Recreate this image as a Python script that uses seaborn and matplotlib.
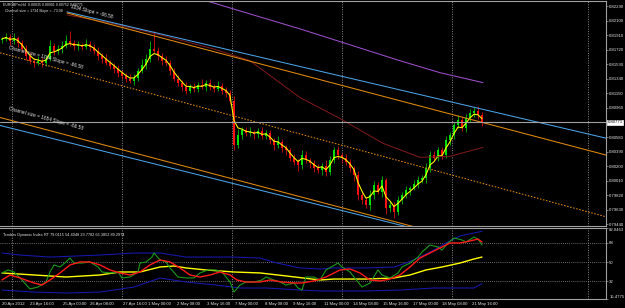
import numpy as np
import pandas as pd
import matplotlib
matplotlib.use("Agg")
import matplotlib.pyplot as plt
import seaborn as sns

# EURGBPm H4 closes (one per bar), first open, wick sizes in pips
first_open = 0.81850
closes = [
    0.81863, 0.81889, 0.81837, 0.81876, 0.81811, 0.81733, 0.81642, 0.81577, 0.81551, 0.81577,
    0.81551, 0.81603, 0.81772, 0.81707, 0.81733, 0.81772, 0.81837, 0.81811, 0.81772, 0.81785,
    0.81759, 0.81798, 0.81759, 0.81707, 0.81642, 0.81603, 0.81551, 0.81512, 0.81473, 0.81421,
    0.81382, 0.81343, 0.81317, 0.81356, 0.81447, 0.81525, 0.81603, 0.81733, 0.81707, 0.81642,
    0.81577, 0.81551, 0.81447, 0.81343, 0.81291, 0.81239, 0.81187, 0.81239, 0.81213, 0.81265,
    0.81239, 0.81291, 0.81239, 0.81213, 0.81252, 0.81187, 0.81161, 0.81057, 0.80472, 0.80602,
    0.80667, 0.80628, 0.80641, 0.80615, 0.80654, 0.80589, 0.80628, 0.80537, 0.80472, 0.80511,
    0.80433, 0.80407, 0.80303, 0.80251, 0.80212, 0.80342, 0.80277, 0.80238, 0.80173, 0.80147,
    0.80199, 0.80121, 0.80277, 0.80407, 0.80342, 0.80303, 0.80251, 0.80173, 0.80082, 0.79822,
    0.79757, 0.79692, 0.79822, 0.79952, 0.79861, 0.80017, 0.79653, 0.79692, 0.79601, 0.79757,
    0.79822, 0.79887, 0.79913, 0.79965, 0.80017, 0.80043, 0.80173, 0.80342, 0.80303, 0.80407,
    0.80342, 0.80537, 0.80602, 0.80732, 0.80797, 0.80693, 0.80823, 0.80901, 0.80927, 0.80862,
    0.80771]
wick_up = [3, 5, 4, 6, 3, 4, 5, 3, 4, 6,
           3, 5, 8, 4, 5, 6, 7, 13, 4, 5,
           3, 6, 4, 3, 5, 4, 6, 3, 4, 5,
           3, 4, 6, 5, 4, 7, 6, 10, 23, 5,
           4, 6, 3, 4, 5, 3, 6, 4, 5, 3,
           7, 4, 5, 3, 6, 4, 5, 4, 6, 8,
           4, 5, 7, 3, 4, 6, 5, 4, 3, 8,
           4, 5, 3, 6, 4, 7, 5, 3, 4, 6,
           4, 8, 5, 4, 6, 3, 5, 4, 3, 6,
           5, 4, 7, 5, 4, 6, 3, 5, 4, 6,
           4, 5, 3, 6, 5, 4, 7, 5, 6, 4,
           5, 6, 4, 5, 7, 4, 6, 5, 4, 6,
           5]
wick_dn = [4, 3, 5, 4, 6, 3, 5, 4, 6, 3,
           5, 4, 3, 6, 4, 5, 3, 4, 5, 6,
           4, 3, 5, 4, 6, 5, 3, 4, 5, 6,
           4, 5, 3, 6, 4, 3, 5, 4, 3, 5,
           6, 4, 5, 3, 4, 6, 5, 3, 4, 5,
           3, 6, 4, 5, 3, 4, 6, 5, 6, 4,
           5, 3, 4, 6, 5, 4, 3, 5, 6, 4,
           5, 6, 4, 3, 8, 5, 4, 6, 5, 4,
           6, 5, 3, 4, 5, 6, 4, 5, 8, 6,
           5, 4, 6, 5, 3, 6, 8, 5, 8, 4,
           5, 4, 6, 3, 5, 4, 6, 5, 4, 3,
           5, 4, 6, 5, 3, 4, 5, 4, 6, 5,
           4]

# long moving averages (bar index, price)
maroon_bar = [16.25, 27, 39.5, 52.75, 62, 74.5, 84.5, 95.25, 104.5, 112, 120.25]
maroon_px = [0.82175, 0.82071, 0.81915, 0.81733, 0.81577, 0.81096, 0.80823, 0.80498, 0.80316, 0.80329, 0.80446]
purple_bar = [51.25, 62, 74.5, 87, 99.5, 109.5, 120.25]
purple_px = [0.82357, 0.82188, 0.81993, 0.81785, 0.81577, 0.81421, 0.81291]

# channel lines (start bar, start price, end bar, end price)
chan_blue_up = [16.25, 0.82214, 151.25, 0.80563]
chan_orange_up = [16.25, 0.82201, 151.25, 0.80342]
chan_mid = [-0.5, 0.81681, 151.25, 0.79536]
chan_orange_lo = [-0.5, 0.80836, 151.25, 0.78744]
chan_blue_lo = [-0.5, 0.80732, 151.25, 0.78759]

price_ticks = [0.79440, 0.79630, 0.79820, 0.80010, 0.80200, 0.80390, 0.80580,
               0.80960, 0.81150, 0.81340, 0.81530, 0.81720, 0.81910, 0.82100, 0.82290]

# Traders Dynamic Index
green_bar = [0, 1.5, 3, 4.5, 7, 9, 11, 12, 13, 14.5, 16, 17, 18, 20, 22, 24, 25, 27, 29, 30,
             32, 34, 34.5, 36, 37.5, 38, 39.5, 41, 42, 44, 46, 48, 49.5, 51.5, 53.5, 55, 57, 58, 59.5, 61,
             63, 65, 66, 68, 69.5, 71, 73, 74, 75, 76, 78, 79.5, 81, 84, 85, 87, 89, 90, 92, 94,
             95, 97, 99, 100, 102, 104, 105, 107, 109, 110, 111.5, 113, 115, 116, 118, 119, 120]
green_val = [39.9, 42.7, 40.8, 35.2, 24.9, 26.7, 31.4, 40.8, 47.4, 45.5, 50.2, 53.9, 49.2, 49.2, 50.2, 45.5, 40.8, 39.9, 40.8, 35.2,
             36.1, 40.8, 49.2, 50.2, 54.8, 58.6, 52.1, 50.2, 44.6, 36.1, 35.2, 35.2, 39.9, 42.7, 42.7, 40.8, 31.4, 22.0, 28.6, 31.4,
             31.4, 33.3, 36.1, 33.3, 31.4, 28.6, 30.5, 25.8, 23.9, 36.1, 36.1, 33.3, 42.7, 49.2, 45.5, 40.8, 31.4, 26.7, 30.5, 42.7,
             38.0, 35.2, 39.9, 45.5, 49.2, 54.8, 59.5, 66.1, 64.2, 61.4, 68.0, 72.7, 70.8, 68.9, 73.6, 71.7, 66.1]
red_bar = [0, 2, 4.5, 8, 10, 12, 14.5, 17, 19.5, 22, 24.5, 27, 29.5, 32, 34.5, 37, 39.5, 42, 44.5, 47,
           49.5, 52, 54.5, 57, 58.75, 61, 64.5, 67, 70, 73, 75, 78, 81, 84.5, 87, 89.5, 92, 94.5, 97, 99.5,
           102, 104.5, 107, 109.5, 112, 114.5, 117, 119, 120]
red_val = [33.3, 38.0, 35.2, 30.5, 28.6, 33.3, 39.9, 47.4, 50.2, 50.2, 47.4, 42.7, 39.9, 38.0, 40.8, 47.4, 52.1, 50.2, 44.6, 38.0,
           36.1, 38.0, 40.8, 38.0, 33.3, 31.4, 31.4, 33.3, 31.4, 30.5, 30.5, 32.4, 36.1, 42.7, 43.6, 39.9, 33.3, 32.4, 34.2, 38.0,
           45.5, 53.9, 58.6, 63.3, 68.0, 68.0, 69.9, 71.7, 68.9]
yel_bar = [0, 8, 16, 24.5, 29.5, 34.5, 39.5, 43, 46, 51, 58, 64.5, 71, 79.5, 83, 91, 98, 102, 106, 110, 114.5, 118, 120]
yel_val = [39.9, 38.0, 36.1, 38.0, 40.8, 40.8, 45.5, 46.4, 44.6, 42.7, 40.8, 39.9, 37.1, 33.3, 34.2, 34.2, 35.2, 38.0, 42.7, 45.5, 49.2, 53.0, 54.8]
bandup_bar = [0, 4.5, 12, 24.5, 33, 39.5, 46, 58, 64.5, 68.75, 74.5, 79.5, 83, 91, 98, 101, 104.5, 108, 111, 114.5, 118, 120]
bandup_val = [58.6, 56.7, 54.8, 56.7, 58.6, 58.6, 54.8, 54.8, 53.9, 49.2, 44.6, 43.6, 44.6, 44.6, 45.5, 49.2, 54.8, 61.4, 68.0, 74.6, 77.4, 79.0]
banddn_bar = [0, 8, 16, 24.5, 33, 39.5, 46, 53.5, 59.5, 66, 74.5, 79.5, 91, 99.5, 108, 118, 120]
banddn_val = [23.9, 22.0, 21.1, 22.0, 26.7, 35.2, 31.4, 28.6, 25.8, 25.8, 23.9, 23.0, 23.0, 23.9, 25.8, 25.8, 29.8]

tdi_ticks = [15.4775, 32, 50, 68, 82.0463]
tdi_labels = ["15.4775", "32", "50", "68", "82.0463"]

time_ticks = [0, 7, 15.25, 22, 30.25, 36.5, 43.75, 51.25, 58.25, 65.75, 72.75, 80.5, 87.75, 95.25, 102.75, 110, 117.5]
time_labels = ["20 Apr 2012", "23 Apr 16:00", "25 Apr 00:00", "26 Apr 08:00", "27 Apr 16:00", "1 May 00:00",
               "2 May 08:00", "3 May 16:00", "7 May 00:00", "8 May 08:00", "9 May 16:00", "11 May 00:00",
               "14 May 08:00", "15 May 16:00", "17 May 00:00", "18 May 08:00", "21 May 16:00"]
grid_bars = [2.5, 30, 57.5, 85, 112.5, 146.5]

sns.set_style("dark", {"axes.facecolor": "black", "figure.facecolor": "black",
                       "axes.edgecolor": "#a0a0a0", "axes.grid": False})
plt.rcParams["font.family"] = ["Liberation Sans", "DejaVu Sans"]

W, H = 625, 308
fig = plt.figure(figsize=(W / 100, H / 100), dpi=100)
ax = fig.add_axes([0, 1 - 226 / H, 606 / W, 225 / H])
ax2 = fig.add_axes([0, 1 - 299 / H, 606 / W, 71 / H])
TXT = "#e6e6e6"
FS = 3.1

def line(a, xs, ys, **kw):
    sns.lineplot(x=xs, y=ys, ax=a, legend=False, estimator=None, sort=False, **kw)

# ---- main price panel
for g in grid_bars:
    ax.axvline(g, color="#8a8a8a", lw=0.7, ls=(0, (1, 1.5)))

opens = [first_open] + closes[:-1]
idx = np.arange(len(closes))
for i in idx:
    o, c = opens[i], closes[i]
    hi = max(o, c) + wick_up[i] * 0.0001
    lo = min(o, c) - wick_dn[i] * 0.0001
    col = "#00e000" if c >= o else "#ff1010"
    ax.vlines(i, lo, hi, color=col, lw=0.5)
    ax.bar(i, max(abs(c - o), 0.00002), bottom=min(o, c), width=0.5, color=col, lw=0)

ma = pd.Series(closes).ewm(span=3).mean()
line(ax, idx, ma, color="#ffff00", lw=0.75)

line(ax, maroon_bar, maroon_px, color="#7a1a1a", lw=0.75)
line(ax, purple_bar, purple_px, color="#9b4fc8", lw=0.75)
for ch, col, ls in [(chan_blue_up, "#4aa3e6", "-"), (chan_orange_up, "#e08a10", "-"),
                    (chan_mid, "#e08a10", (0, (1.5, 1.5))), (chan_orange_lo, "#e08a10", "-"),
                    (chan_blue_lo, "#4aa3e6", "-")]:
    line(ax, [ch[0], ch[2]], [ch[1], ch[3]], color=col, lw=0.75, linestyle=ls)

ax.axhline(closes[-1], color="#a0a0a0", lw=0.8)
ax.set_xlim(-0.5, 151)
ax.set_ylim(0.79419, 0.82357)
ax.set_xticks([])
ax.yaxis.tick_right()
ax.set_yticks(price_ticks)
ax.set_yticklabels([f"{p:.5f}" for p in price_ticks])
ax.tick_params(axis="y", colors=TXT, labelsize=FS, length=1.5, width=0.5, pad=0.8, color="#a0a0a0")
ax.text(1.003, closes[-1], f"{closes[-1]:.5f}", transform=ax.get_yaxis_transform(), fontsize=FS,
        color="black", va="center", ha="left",
        bbox=dict(boxstyle="square,pad=0.12", fc="white", ec="white", lw=0.5), clip_on=False)
ax.spines["left"].set_visible(False)
for s in ["top", "right", "bottom"]:
    ax.spines[s].set_linewidth(0.8)

def px(x, y):
    return x / W, 1 - y / H

fig.text(*px(3, 5), "EURGBPm,H4  0.80835 0.80901 0.80752 0.80771", fontsize=2.5, color=TXT, va="center")
fig.text(*px(5, 11), "Channel size = 1734 Slope = -73.08", fontsize=2.6, color=TXT, va="center")
fig.text(*px(70, 9), "1034 Slope = -66.58", fontsize=3.4, color=TXT, rotation=-14,
         rotation_mode="anchor", ha="left", va="bottom")
fig.text(*px(8, 50), "Channel size = 1034 Slope = -66.58", fontsize=3.4, color=TXT, rotation=-15,
         rotation_mode="anchor", ha="left", va="bottom")
fig.text(*px(8, 111), "Channel size = 1654 Slope = -66.58", fontsize=3.4, color=TXT, rotation=-15,
         rotation_mode="anchor", ha="left", va="bottom")

# ---- TDI panel
for g in grid_bars:
    ax2.axvline(g, color="#8a8a8a", lw=0.7, ls=(0, (1, 1.5)))
for lvl in tdi_ticks[1:4]:
    ax2.axhline(lvl, color="#8a8a8a", lw=0.6, ls=(0, (1, 1.5)))
line(ax2, bandup_bar, bandup_val, color="#1818b0", lw=0.75)
line(ax2, banddn_bar, banddn_val, color="#1818b0", lw=0.75)
line(ax2, yel_bar, yel_val, color="#ffff00", lw=1.0)
line(ax2, green_bar, green_val, color="#1a9a1a", lw=0.8)
line(ax2, red_bar, red_val, color="#ff1a1a", lw=1.0)
ax2.set_xlim(-0.5, 151)
ax2.set_ylim(15.4775, 82.0463)
ax2.yaxis.tick_right()
ax2.set_yticks(tdi_ticks)
ax2.set_yticklabels(tdi_labels)
ax2.set_xticks(time_ticks)
ax2.set_xticklabels(time_labels, ha="left")
ax2.tick_params(axis="both", colors=TXT, labelsize=FS, length=1.5, width=0.5, pad=0.8, color="#a0a0a0")
ylabs = ax2.get_yticklabels()
ylabs[0].set_va("bottom")
ylabs[-1].set_va("top")
ax2.spines["left"].set_visible(False)
for s in ["top", "right", "bottom"]:
    ax2.spines[s].set_linewidth(0.8)
fig.text(*px(3, 235), "Traders Dynamic Index RT 79.0115 54.4048 29.7782 65.3852 89.2974",
         fontsize=2.8, color=TXT, va="center")

for a in (ax, ax2):
    a.set_xlabel("")
    a.set_ylabel("")
    a.xaxis.label.set_visible(False)
    a.yaxis.label.set_visible(False)

fig.savefig("out.png", dpi=100, facecolor="black")
